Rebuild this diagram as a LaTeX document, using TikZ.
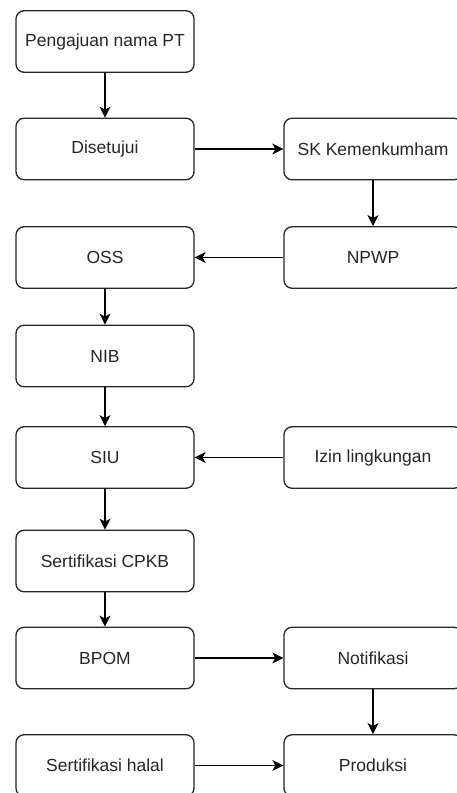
\documentclass[tikz,border=0pt]{standalone}
\usepackage{fontspec}
\setmainfont{Liberation Sans}
\usetikzlibrary{arrows.meta}
\begin{document}
\begin{tikzpicture}[x=1pt,y=-1pt,
  box/.style={draw=black!85, line width=1.3pt, rounded corners=8pt,
    minimum width=178pt, minimum height=61.5pt, inner sep=0pt,
    font=\fontsize{17.5}{20}\selectfont, text=black!85},
  arr/.style={line width=1.3pt, draw=black,
    -{Stealth[length=11pt,width=11pt,inset=3pt]}}]
\useasboundingbox (0,0) rectangle (457,793);
\fill[white] (0,0) rectangle (457,793);
\clip (0,0) rectangle (457,793);
\node[box] (peng) at (105,41.5) {Pengajuan nama PT};
\node[box] (dis)  at (105,149) {Disetujui};
\node[box] (sk)   at (373,149) {SK Kemenkumham};
\node[box] (npwp) at (373,257.5) {NPWP};
\node[box] (oss)  at (105,257.5) {OSS};
\node[box] (nib)  at (105,356) {NIB};
\node[box] (siu)  at (105,457.5) {SIU};
\node[box] (izin) at (373,457.5) {Izin lingkungan};
\node[box] (cpkb) at (105,561) {Sertifikasi CPKB};
\node[box] (bpom) at (105,658) {BPOM};
\node[box] (noti) at (373,658) {Notifikasi};
\node[box] (halal) at (105,765.5) {Sertifikasi halal};
\node[box] (prod) at (373,765.5) {Produksi};
\draw[arr] (peng) -- (dis);
\draw[arr] (dis) -- (sk);
\draw[arr] (sk) -- (npwp);
\draw[arr] (npwp) -- (oss);
\draw[arr] (oss) -- (nib);
\draw[arr] (nib) -- (siu);
\draw[arr] (izin) -- (siu);
\draw[arr] (siu) -- (cpkb);
\draw[arr] (cpkb) -- (bpom);
\draw[arr] (bpom) -- (noti);
\draw[arr] (noti) -- (prod);
\draw[arr] (halal) -- (prod);
\end{tikzpicture}
\end{document}
